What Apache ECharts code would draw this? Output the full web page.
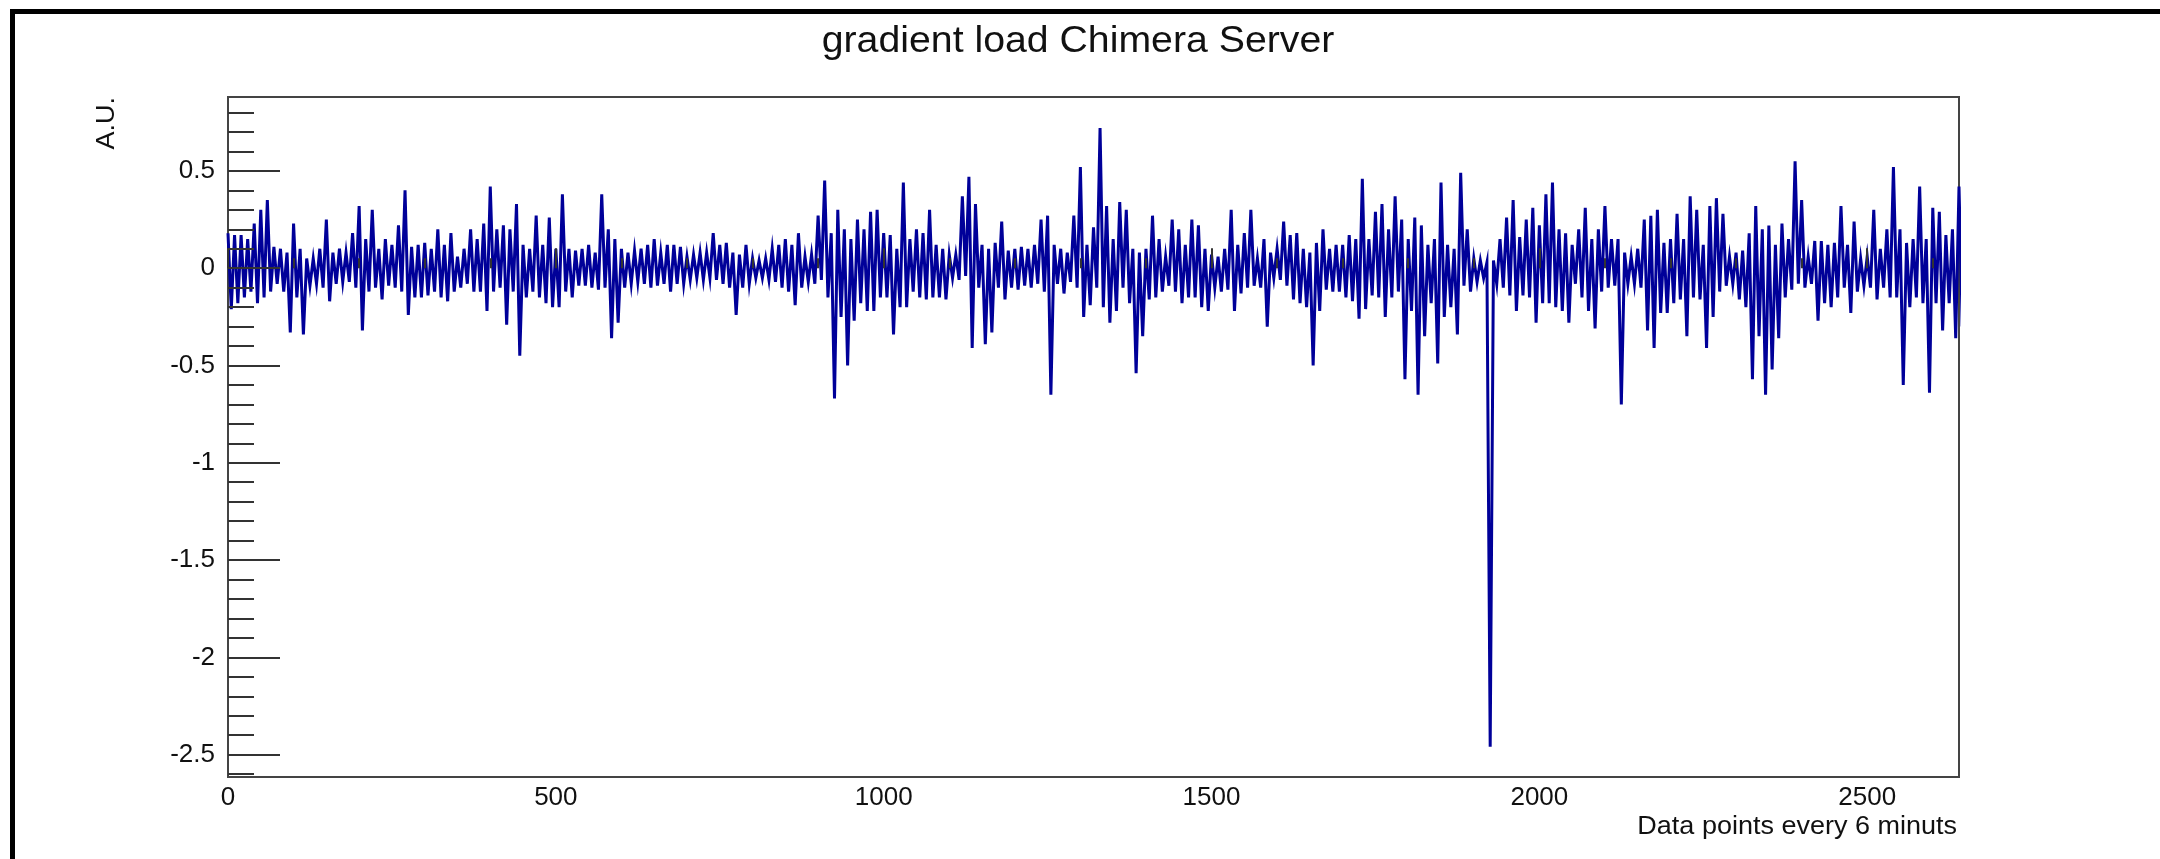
<!DOCTYPE html>
<html>
<head>
<meta charset="utf-8">
<script src="https://cdn.jsdelivr.net/npm/echarts@6/dist/echarts.min.js"></script>
<style>
html,body{margin:0;padding:0;background:#fff;}
#chart{width:2160px;height:859px;}
</style>
</head>
<body>
<div id="chart"></div>
<script>
// ---- data: upper / lower envelope per 10-point column ----
const columnStep = 10;
const xStart = 0;
const xEnd = 2640;

const tops = [
  // 0 .. 520
  0.18,0.17,0.17,0.15,0.23,0.30,0.35,0.11,0.10,0.08,
  0.23,0.10,0.05,0.05,0.10,0.25,0.08,0.10,0.08,0.18,
  0.32,0.15,0.30,0.10,0.15,0.12,0.22,0.40,0.11,0.12,
  0.13,0.10,0.20,0.12,0.18,0.06,0.10,0.20,0.15,0.23,
  0.42,0.20,0.22,0.20,0.33,0.12,0.10,0.27,0.12,0.26,
  0.10,0.38,0.10,
  // 530 .. 1040
  0.09,0.10,0.12,0.08,0.38,0.20,0.15,0.10,0.08,0.09,
  0.10,0.12,0.15,0.08,0.12,0.12,0.11,0.06,0.07,0.08,
  0.08,0.18,0.12,0.13,0.08,0.07,0.12,0.05,0.04,0.05,
  0.10,0.12,0.15,0.12,0.18,0.06,0.07,0.27,0.45,0.18,
  0.30,0.20,0.15,0.25,0.20,0.29,0.30,0.18,0.17,0.10,
  0.44,0.15,
  // 1050 .. 1580
  0.20,0.18,0.30,0.12,0.10,0.07,0.07,0.37,0.47,0.33,
  0.12,0.10,0.13,0.24,0.09,0.10,0.11,0.10,0.12,0.25,
  0.27,0.12,0.10,0.08,0.27,0.52,0.12,0.21,0.72,0.32,
  0.15,0.34,0.30,0.10,0.08,0.10,0.27,0.15,0.06,0.25,
  0.20,0.12,0.25,0.22,0.10,0.07,0.06,0.10,0.30,0.12,
  0.18,0.30,0.05,0.15,
  // 1590 .. 2100
  0.08,0.10,0.24,0.17,0.18,0.10,0.08,0.13,0.20,0.10,
  0.12,0.12,0.17,0.15,0.46,0.15,0.29,0.33,0.20,0.37,
  0.25,0.15,0.26,0.22,0.12,0.15,0.44,0.12,0.10,0.49,
  0.20,0.05,0.04,0.03,0.04,0.15,0.26,0.35,0.16,0.25,
  0.31,0.22,0.38,0.44,0.20,0.18,0.12,0.20,0.31,0.15,
  0.20,0.32,
  // 2110 .. 2640
  0.15,0.15,0.08,0.06,0.10,0.25,0.27,0.30,0.13,0.15,
  0.28,0.15,0.37,0.30,0.12,0.32,0.36,0.28,0.06,0.08,
  0.09,0.18,0.32,0.20,0.22,0.12,0.23,0.15,0.55,0.35,
  0.06,0.14,0.14,0.12,0.13,0.32,0.12,0.24,0.05,0.06,
  0.30,0.10,0.20,0.52,0.20,0.13,0.15,0.42,0.15,0.31,
  0.29,0.17,0.20,0.42
];

const bottoms = [
  // 0 .. 520
  -0.21,-0.18,-0.15,-0.12,-0.18,-0.15,-0.12,-0.08,-0.12,-0.33,
  -0.15,-0.34,-0.09,-0.08,-0.10,-0.17,-0.08,-0.07,-0.07,-0.10,
  -0.32,-0.12,-0.10,-0.16,-0.09,-0.10,-0.12,-0.24,-0.15,-0.15,
  -0.14,-0.12,-0.15,-0.17,-0.12,-0.10,-0.08,-0.12,-0.12,-0.22,
  -0.12,-0.10,-0.29,-0.12,-0.45,-0.15,-0.12,-0.15,-0.18,-0.20,
  -0.20,-0.12,-0.15,
  // 530 .. 1040
  -0.09,-0.09,-0.10,-0.11,-0.10,-0.36,-0.28,-0.10,-0.08,-0.07,
  -0.08,-0.10,-0.09,-0.08,-0.12,-0.08,-0.08,-0.06,-0.05,-0.06,
  -0.05,-0.06,-0.08,-0.10,-0.24,-0.10,-0.08,-0.05,-0.05,-0.06,
  -0.07,-0.10,-0.12,-0.19,-0.10,-0.07,-0.08,-0.06,-0.15,-0.67,
  -0.25,-0.50,-0.27,-0.18,-0.22,-0.22,-0.15,-0.15,-0.34,-0.20,
  -0.20,-0.12,
  // 1050 .. 1580
  -0.15,-0.16,-0.15,-0.15,-0.16,-0.05,-0.06,-0.04,-0.41,-0.10,
  -0.39,-0.33,-0.10,-0.16,-0.10,-0.11,-0.09,-0.10,-0.08,-0.12,
  -0.65,-0.08,-0.13,-0.07,-0.10,-0.25,-0.19,-0.10,-0.20,-0.28,
  -0.22,-0.10,-0.18,-0.54,-0.35,-0.16,-0.15,-0.12,-0.09,-0.12,
  -0.18,-0.15,-0.15,-0.20,-0.22,-0.10,-0.12,-0.11,-0.22,-0.13,
  -0.10,-0.09,-0.10,-0.30,
  // 1590 .. 2100
  -0.05,-0.06,-0.09,-0.16,-0.18,-0.20,-0.50,-0.22,-0.11,-0.12,
  -0.12,-0.15,-0.17,-0.26,-0.21,-0.14,-0.15,-0.25,-0.15,-0.12,
  -0.57,-0.22,-0.65,-0.35,-0.18,-0.49,-0.25,-0.20,-0.34,-0.09,
  -0.12,-0.07,-0.05,-2.46,-0.08,-0.10,-0.14,-0.22,-0.14,-0.15,
  -0.28,-0.18,-0.18,-0.20,-0.22,-0.28,-0.08,-0.15,-0.22,-0.31,
  -0.12,-0.10,
  // 2110 .. 2640
  -0.09,-0.70,-0.08,-0.08,-0.10,-0.32,-0.41,-0.23,-0.23,-0.18,
  -0.16,-0.35,-0.15,-0.16,-0.41,-0.25,-0.12,-0.09,-0.08,-0.16,
  -0.20,-0.57,-0.35,-0.65,-0.52,-0.36,-0.15,-0.11,-0.08,-0.10,
  -0.08,-0.27,-0.18,-0.20,-0.15,-0.10,-0.23,-0.12,-0.09,-0.10,
  -0.16,-0.10,-0.15,-0.15,-0.60,-0.20,-0.15,-0.18,-0.64,-0.18,
  -0.32,-0.18,-0.36,-0.30
];

// tick values
const xMajorTicks = [0, 500, 1000, 1500, 2000, 2500];
const xMinorTicks = [100,200,300,400,600,700,800,900,1100,1200,1300,1400,1600,1700,1800,1900,2100,2200,2300,2400,2600];
const yMajorTicks = [-2.5, -2, -1.5, -1, -0.5, 0, 0.5];
const yMinorTicks = [-2.6,-2.4,-2.3,-2.2,-2.1,-1.9,-1.8,-1.7,-1.6,-1.4,-1.3,-1.2,-1.1,-0.9,-0.8,-0.7,-0.6,-0.4,-0.3,-0.2,-0.1,0.1,0.2,0.3,0.4,0.6,0.7,0.8];
const yMin = -2.615;
const yMax = 0.88;

const titleText = 'gradient load Chimera Server';
const xTitle = 'Data points every 6 minuts';
const yTitle = 'A.U.';

// build series points: each column contributes its upper then lower excursion
const points = [];
for (let i = 0; i < tops.length; i++) {
  const x = xStart + i * columnStep;
  points.push([x, tops[i]]);
  points.push([x + columnStep / 2, bottoms[i]]);
}

const FONT = '"Liberation Sans", Arial, Helvetica, sans-serif';
const chart = echarts.init(document.getElementById('chart'), null, {renderer: 'canvas', width: 2160, height: 859});

const axisCommon = {
  type: 'value',
  splitLine: {show: false},
  axisLine: {show: false},
  z: 5
};
const plainNum = function (v) { return String(v); };

chart.setOption({
  backgroundColor: '#ffffff',
  animation: false,
  grid: {
    left: 228, top: 97, width: 1731, height: 680,
    show: true, borderColor: '#444', borderWidth: 2, backgroundColor: 'transparent'
  },
  xAxis: [
    Object.assign({}, axisCommon, {
      min: xStart, max: xEnd, position: 'bottom',
      axisTick: {show: true, inside: true, length: 20, lineStyle: {color: '#333', width: 2}, customValues: xMajorTicks},
      axisLabel: {show: true, margin: 8, fontFamily: FONT, fontSize: 26, color: '#111', customValues: xMajorTicks, formatter: plainNum}
    }),
    Object.assign({}, axisCommon, {
      min: xStart, max: xEnd, position: 'bottom',
      axisTick: {show: true, inside: true, length: 10, lineStyle: {color: '#333', width: 2}, customValues: xMinorTicks},
      axisLabel: {show: false}
    })
  ],
  yAxis: [
    Object.assign({}, axisCommon, {
      min: yMin, max: yMax, position: 'left',
      axisTick: {show: true, inside: true, length: 52, lineStyle: {color: '#333', width: 2}, customValues: yMajorTicks},
      axisLabel: {show: true, margin: 13, fontFamily: FONT, fontSize: 26, color: '#111', customValues: yMajorTicks, formatter: plainNum}
    }),
    Object.assign({}, axisCommon, {
      min: yMin, max: yMax, position: 'left',
      axisTick: {show: true, inside: true, length: 26, lineStyle: {color: '#333', width: 2}, customValues: yMinorTicks},
      axisLabel: {show: false}
    })
  ],
  series: [{
    type: 'line',
    xAxisIndex: 0, yAxisIndex: 0,
    data: points,
    showSymbol: false,
    symbol: 'none',
    clip: true,
    lineStyle: {color: '#000099', width: 3, join: 'miter'},
    z: 2
  }],
  graphic: [
    {type: 'rect', shape: {x: 10, y: 9, width: 2150, height: 5}, style: {fill: '#000'}, z: 10},
    {type: 'rect', shape: {x: 10, y: 9, width: 5, height: 850}, style: {fill: '#000'}, z: 10},
    {type: 'text', x: 1078, y: 42, scaleX: 1.09,
     style: {text: titleText, font: '36px ' + FONT, fill: '#111', textAlign: 'center', textVerticalAlign: 'middle'}, z: 10},
    {type: 'text', x: 1957, y: 827, scaleX: 1.08,
     style: {text: xTitle, font: '25px ' + FONT, fill: '#111', textAlign: 'right', textVerticalAlign: 'middle'}, z: 10},
    {type: 'text', x: 107, y: 97, rotation: Math.PI / 2, scaleX: 1.08,
     style: {text: yTitle, font: '25px ' + FONT, fill: '#111', textAlign: 'right', textVerticalAlign: 'middle'}, z: 10}
  ]
});
</script>
</body>
</html>
